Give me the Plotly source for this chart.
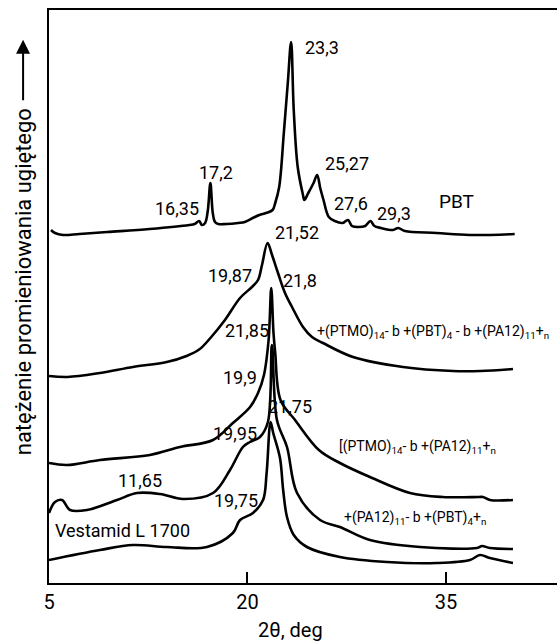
import plotly.graph_objects as go

# 2θ (deg) and diffracted intensity (arbitrary units, curves stacked vertically)
pbt_2theta = [5.15, 5.45, 6.06, 7.3, 9.4, 12.6, 15.6, 16.0, 16.35, 16.55, 16.8, 17.0, 17.2,
              17.38, 17.55, 17.8, 18.4, 19.3, 19.8, 20.4, 20.9, 21.4, 21.9, 22.1, 22.4, 22.75,
              23.05, 23.3, 23.5, 23.8, 24.2, 24.3, 24.6, 25.0, 25.27, 25.5, 25.75, 26.15, 26.6,
              27.2, 27.6, 27.9, 28.4, 28.9, 29.3, 29.6, 30.1, 31.0, 31.4, 31.9, 34.3, 36.8, 40.2]
pbt_int = [353, 350, 348, 349, 351, 354, 358, 359, 362, 358, 360, 372, 400,
           370, 361, 359, 359, 360, 361, 365, 368, 370, 373, 380, 396, 450,
           500, 541, 473, 416, 388, 383, 390, 400, 408, 395, 383, 366, 362,
           360, 363, 357, 356, 357, 362, 357, 355, 353, 355, 352, 350, 348, 349]

ptmo_pbt_pa_2theta = [5.0, 6.4, 8.85, 11.35, 13.9, 15.4, 16.4, 17.2, 18.3, 19.44, 20.34, 20.8,
                      21.1, 21.52, 21.86, 22.31, 22.84, 23.37, 24.2, 24.88, 25.71, 27.98, 31.76,
                      35.54, 37.6, 40.07]
ptmo_pbt_pa_int = [207, 206, 210, 216, 221, 227, 234, 245, 263, 285, 296, 303,
                   318, 340, 328, 310, 290, 276, 256, 246, 240, 226, 216,
                   212, 212, 214]

ptmo_pa_2theta = [5.0, 6.36, 8.85, 12.63, 14.9, 17.4, 18.9, 20.2, 20.8, 21.25, 21.6, 21.8,
                  21.97, 22.1, 22.5, 23.6, 25.4, 26.99, 29.26, 32.29, 34.78, 37.5, 37.8, 38.33,
                  40.07]
ptmo_pa_int = [120, 118, 123, 128, 136, 143, 160, 176, 190, 208, 243, 295,
               250, 230, 183, 163, 133, 120, 106, 90, 86, 86, 86, 83,
               83]

pa_pbt_2theta = [5.0, 5.45, 5.98, 6.59, 7.87, 10.14, 11.65, 13.39, 15.13, 17.4, 18.68, 19.66,
                 20.19, 20.95, 21.55, 21.85, 22.23, 22.99, 23.75, 25.49, 26.99, 29.26, 33.04,
                 37.35, 37.73, 38.33, 40.07]
pa_pbt_int = [70, 81, 83, 73, 73, 83, 90, 89, 84, 90, 113, 136,
              141, 146, 161, 238, 163, 136, 90, 63, 56, 43, 36,
              35, 37, 35, 34]

vestamid_2theta = [5.0, 8.85, 11.35, 13.9, 16.94, 18.9, 19.44, 20.42, 21.18, 21.45, 21.75,
                   21.95, 22.46, 22.7, 22.99, 23.5, 24.5, 26.99, 30.55, 34.33, 36.82, 37.58,
                   38.33, 40.07]
vestamid_int = [23, 33, 38, 36, 36, 50, 63, 70, 83, 110, 161,
                150, 125, 93, 66, 48, 36, 26, 21, 20, 23, 28,
                25, 20]

# peak labels: text, 2θ position, intensity position
peak_text = ["16,35", "17,2", "23,3", "25,27", "27,6", "29,3",
             "21,52", "19,87", "21,8", "21,85", "19,9", "21,75", "19,95", "11,65", "19,75"]
peak_x = [14.67, 17.62, 25.63, 27.52, 27.83, 31.08,
          23.75, 18.68, 23.97, 19.97, 19.44, 23.22, 19.06, 11.88, 19.13]
peak_y = [375, 411, 536, 420, 380, 370,
          351, 308, 303, 253, 206, 177, 150, 103, 83]

# sample names: text, left 2θ, intensity
sample_text = ["PBT",
               "+(PTMO)<sub>14</sub>- b +(PBT)<sub>4</sub> - b +(PA12)<sub>11</sub>+<sub>n</sub>",
               "[(PTMO)<sub>14</sub>- b +(PA12)<sub>11</sub>+<sub>n</sub>",
               "+(PA12)<sub>11</sub>- b +(PBT)<sub>4</sub>+<sub>n</sub>",
               "Vestamid L 1700"]
sample_x = [34.3, 25.11, 26.77, 27.15, 5.30]
sample_y = [382, 251, 136, 65, 53]
sample_size = [19, 14, 14, 14, 18]

x_ticks = [5, 20, 35]
x_tick_labels = ["5", "20", "35"]

FONT = "Roboto, DejaVu Sans, sans-serif"

fig = go.Figure()
curves = [(pbt_2theta, pbt_int), (ptmo_pbt_pa_2theta, ptmo_pbt_pa_int),
          (ptmo_pa_2theta, ptmo_pa_int), (pa_pbt_2theta, pa_pbt_int),
          (vestamid_2theta, vestamid_int)]
for xs, ys in curves:
    fig.add_trace(go.Scatter(x=xs, y=ys, mode="lines",
                             line=dict(color="black", width=2.6, shape="spline", smoothing=1.0),
                             showlegend=False, hoverinfo="skip"))

for t, x, y in zip(peak_text, peak_x, peak_y):
    fig.add_annotation(x=x, y=y, xref="x", yref="y", text=t, showarrow=False,
                       xanchor="center", yanchor="middle",
                       font=dict(family=FONT, size=18, color="black"))

for t, x, y, s in zip(sample_text, sample_x, sample_y, sample_size):
    fig.add_annotation(x=x, y=y, xref="x", yref="y", text=t, showarrow=False,
                       xanchor="left", yanchor="middle",
                       font=dict(family=FONT, size=s, color="black"))

# vertical axis caption with upward arrow
fig.add_annotation(x=-0.051, y=0.525, xref="paper", yref="paper",
                   text="natężenie promieniowania ugiętego", textangle=-90,
                   showarrow=False, xanchor="center", yanchor="middle",
                   font=dict(family=FONT, size=22, color="black"))
fig.add_annotation(x=-0.051, y=0.948, xref="paper", yref="paper", text="",
                   showarrow=True, axref="pixel", ayref="pixel", ax=0, ay=62,
                   arrowhead=2, arrowsize=1.4, arrowwidth=2, arrowcolor="black")

# horizontal axis caption
fig.add_annotation(x=0.476, y=-0.082, xref="paper", yref="paper", text="2θ, deg",
                   showarrow=False, xanchor="center", yanchor="middle",
                   font=dict(family=FONT, size=20, color="black"))

fig.update_layout(
    width=557, height=641, autosize=False,
    margin=dict(l=49, r=0, t=10, b=58),
    plot_bgcolor="white", paper_bgcolor="white",
    xaxis=dict(range=[5, 43.4], tickvals=x_ticks, ticktext=x_tick_labels,
               ticks="inside", ticklen=11, tickwidth=2, tickcolor="black",
               showline=True, linewidth=2, linecolor="black", mirror=True,
               showgrid=False, zeroline=False,
               tickfont=dict(family=FONT, size=20, color="black")),
    yaxis=dict(range=[0, 573], showline=True, linewidth=2, linecolor="black",
               showticklabels=False, ticks="", showgrid=False, zeroline=False),
)

fig.write_html("out.html")
